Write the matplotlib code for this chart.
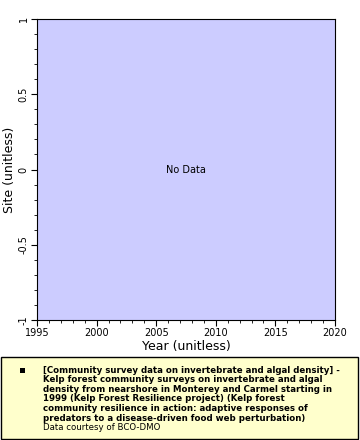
import matplotlib
matplotlib.use("Agg")
import matplotlib.pyplot as plt
from matplotlib.patches import Rectangle
from matplotlib.ticker import MultipleLocator

x_range = [1995, 2020]
y_range = [-1, 1]
x_ticks = [1995, 2000, 2005, 2010, 2015, 2020]
y_ticks = [-1, -0.5, 0, 0.5, 1]
y_tick_labels = ["-1", "-0.5", "0", "0.5", "1"]
legend_lines = [
    "[Community survey data on invertebrate and algal density] -",
    "Kelp forest community surveys on invertebrate and algal",
    "density from nearshore in Monterey and Carmel starting in",
    "1999 (Kelp Forest Resilience project) (Kelp forest",
    "community resilience in action: adaptive responses of",
    "predators to a disease-driven food web perturbation)",
]
credit = "Data courtesy of BCO-DMO"

fig = plt.figure(figsize=(3.6, 4.4), dpi=100)
ax = fig.add_axes([37/360, 1-320/440, 298/360, 301/440])
ax.set_facecolor("#ccccff")
ax.set_xlim(x_range)
ax.set_ylim(y_range)
ax.set_xticks(x_ticks)
ax.set_xticklabels([str(v) for v in x_ticks])
ax.set_yticks(y_ticks)
ax.set_yticklabels(y_tick_labels, rotation=90, va="center")
ax.xaxis.set_minor_locator(MultipleLocator(1))
ax.yaxis.set_minor_locator(MultipleLocator(0.1))
ax.tick_params(labelsize=7, length=4, width=0.8, pad=2)
ax.tick_params(which="minor", length=2, width=0.6)
ax.set_xlabel("Year (unitless)", fontsize=9, labelpad=1)
ax.set_ylabel("Site (unitless)", fontsize=9, labelpad=2)
ax.text(0.5, 0.5, "No Data", transform=ax.transAxes, ha="center", va="center", fontsize=7)

# legend box
fig.patches.append(Rectangle((1/360, 1/440), 357/360, 82/440, transform=fig.transFigure,
                             facecolor="#ffffcc", edgecolor="black", linewidth=1))
fig.patches.append(Rectangle((20/360, 1-373/440), 5/360, 5/440, transform=fig.transFigure,
                             facecolor="black", edgecolor="none"))
y0 = 370
for i, line in enumerate(legend_lines):
    fig.text(43/360, 1-(y0+i*9.6)/440, line, fontsize=6.2, fontweight="bold", va="center", ha="left")
fig.text(43/360, 1-(y0+6*9.6)/440, credit, fontsize=6.2, va="center", ha="left")

fig.savefig("out.png", dpi=100)
